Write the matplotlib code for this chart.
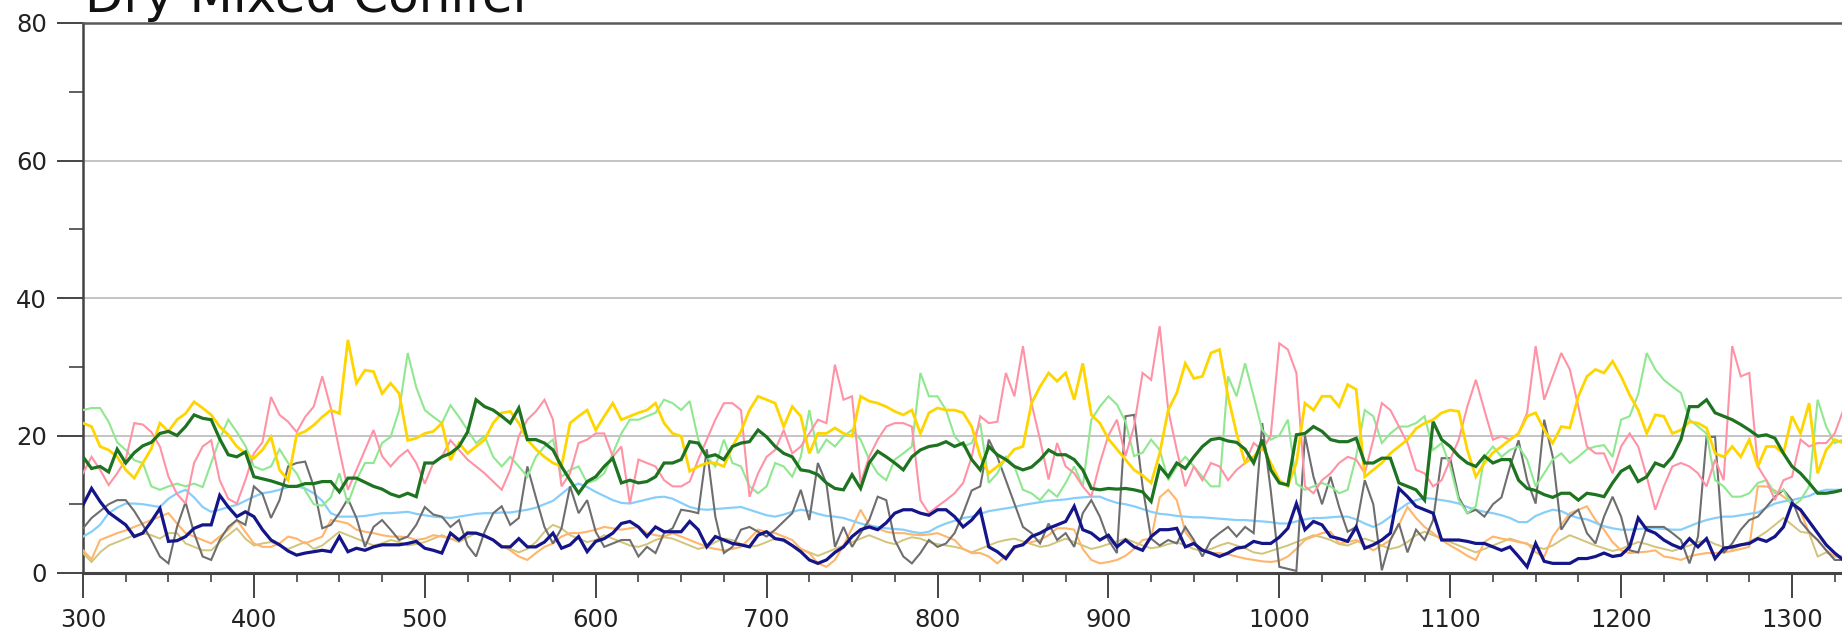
import numpy as np
import matplotlib
matplotlib.use("Agg")
import matplotlib.pyplot as plt
from matplotlib.ticker import MultipleLocator

# ---------------- data (5-year steps, 300 .. 1330) ----------------
years = list(range(300, 1331, 5))

dark_green = [
    16.9, 15.2, 15.5, 14.7, 18.0, 16.0, 17.5, 18.5, 19.0, 20.3, 20.6, 20.0, 21.3, 23.0, 22.5, 22.3, 19.5, 17.2, 16.9, 17.6,
    14.0, 13.7, 13.4, 13.0, 12.6, 12.6, 13.0, 13.0, 13.3, 13.3, 11.8, 13.8, 13.8, 13.2, 12.6, 12.2, 11.5, 11.1, 11.6, 11.1,
    16.0, 16.0, 16.9, 17.4, 18.4, 20.5, 25.2, 24.2, 23.7, 22.8, 21.8, 24.0, 19.4, 19.4, 18.9, 17.9, 15.5, 13.5, 11.6, 13.3,
    14.0, 15.5, 16.7, 13.1, 13.5, 13.1, 13.3, 14.0, 16.0, 16.0, 16.5, 19.1, 18.9, 16.9, 17.2, 16.5, 18.4, 18.9, 19.1, 20.8,
    19.8, 18.4, 17.4, 16.9, 15.0, 14.8, 14.3, 13.1, 12.3, 12.1, 14.3, 12.3, 16.0, 17.7, 16.9, 16.0, 15.0, 16.9, 17.9, 18.4,
    18.6, 19.1, 18.4, 18.9, 16.5, 15.0, 18.4, 17.2, 16.5, 15.5, 15.0, 15.4, 16.5, 17.9, 17.2, 17.2, 16.5, 15.0, 12.3, 12.1,
    12.3, 12.2, 12.3, 12.1, 11.8, 10.4, 15.5, 14.0, 16.0, 15.2, 16.9, 18.4, 19.4, 19.6, 19.2, 19.0, 18.0, 16.0, 19.4, 15.0,
    13.1, 12.8, 20.1, 20.3, 21.3, 20.6, 19.4, 19.1, 19.1, 19.6, 16.0, 16.0, 16.7, 16.7, 13.1, 12.6, 12.1, 10.6, 22.0, 19.4,
    18.4, 17.0, 16.0, 15.5, 17.0, 16.0, 16.5, 16.5, 13.5, 12.3, 12.0, 11.4, 11.0, 11.6, 11.6, 10.6, 11.6, 11.4, 11.1, 13.1,
    14.8, 15.5, 13.3, 14.0, 16.0, 15.5, 16.9, 19.4, 24.2, 24.2, 25.2, 23.3, 22.8, 22.3, 21.6, 20.8, 19.9, 20.1, 19.6, 17.4,
    15.5, 14.5, 13.1, 11.6, 11.6, 11.8, 12.1,
]

navy = [
    9.9, 12.3, 10.4, 8.8, 7.9, 7.0, 5.3, 5.8, 7.5, 9.4, 4.6, 4.7, 5.3, 6.5, 7.0, 7.0, 11.3, 9.6, 8.2, 8.9,
    8.2, 6.3, 4.8, 4.1, 3.2, 2.6, 2.9, 3.1, 3.3, 3.1, 5.3, 3.1, 3.6, 3.3, 3.8, 4.1, 4.1, 4.1, 4.3, 4.6,
    3.6, 3.3, 2.9, 5.8, 4.8, 5.8, 5.8, 5.4, 4.8, 3.8, 3.8, 5.0, 3.8, 3.8, 4.5, 5.8, 3.6, 4.1, 5.3, 3.1,
    4.6, 5.0, 5.8, 7.2, 7.5, 6.7, 5.3, 6.7, 6.0, 6.0, 6.0, 7.5, 6.3, 3.8, 5.3, 4.8, 4.3, 4.1, 3.8, 5.5,
    6.0, 5.0, 4.8, 4.0, 3.1, 1.9, 1.4, 1.9, 3.0, 3.8, 5.3, 6.3, 6.7, 6.3, 7.3, 8.7, 9.2, 9.2, 8.7, 8.4,
    9.2, 9.2, 8.2, 6.7, 7.7, 9.2, 3.8, 3.1, 2.1, 3.8, 4.1, 5.3, 5.8, 6.5, 7.0, 7.5, 9.7, 6.3, 5.8, 4.8,
    5.5, 3.8, 4.8, 3.8, 3.3, 5.3, 6.3, 6.3, 6.5, 3.8, 4.3, 3.3, 2.9, 2.4, 2.9, 3.6, 3.8, 4.6, 4.3, 4.3,
    5.2, 6.5, 10.1, 6.3, 7.5, 7.0, 5.3, 5.0, 4.6, 6.7, 3.6, 4.1, 4.8, 5.8, 12.3, 11.1, 9.7, 9.2, 8.7, 4.8,
    4.8, 4.8, 4.6, 4.3, 4.3, 3.8, 3.3, 3.8, 2.4, 0.9, 4.3, 1.7, 1.4, 1.4, 1.4, 2.1, 2.1, 2.4, 2.9, 2.4,
    2.6, 3.8, 8.0, 6.3, 5.8, 4.8, 4.1, 3.6, 5.0, 3.8, 5.0, 2.1, 3.6, 3.8, 4.1, 4.3, 5.0, 4.6, 5.3, 6.7,
    10.1, 9.2, 7.5, 5.8, 4.1, 2.9, 1.9,
]

gold = [
    21.8, 21.3, 18.4, 17.9, 16.9, 15.0, 13.8, 16.0, 18.1, 21.8, 20.6, 22.3, 23.2, 24.9, 24.0, 23.0, 21.3, 20.1, 18.4, 17.4,
    16.7, 17.9, 19.8, 15.0, 13.5, 20.1, 20.6, 21.5, 22.7, 23.7, 23.2, 33.9, 27.6, 29.5, 29.3, 26.1, 27.6, 26.1, 19.3, 19.6,
    20.3, 20.6, 21.8, 16.4, 18.9, 17.4, 18.4, 19.4, 21.8, 23.3, 23.5, 21.8, 19.4, 18.0, 16.9, 16.0, 15.5, 21.8, 22.8, 23.7,
    20.8, 22.8, 24.7, 22.3, 22.8, 23.3, 23.7, 24.7, 21.8, 20.3, 19.9, 14.8, 15.5, 16.0, 16.0, 15.5, 18.4, 20.6, 23.7, 25.7,
    25.2, 24.7, 21.3, 24.2, 22.8, 17.4, 20.3, 20.3, 21.1, 20.3, 19.9, 25.7, 25.0, 24.7, 24.2, 23.5, 23.0, 23.7, 20.3, 23.3,
    24.0, 23.7, 23.7, 23.3, 21.3, 17.0, 14.5, 15.5, 16.5, 18.0, 18.4, 24.7, 27.1, 29.1, 27.9, 29.1, 25.2, 30.5, 23.0, 21.8,
    19.5, 18.0, 16.5, 15.0, 14.2, 13.1, 17.4, 23.7, 26.2, 30.5, 28.3, 28.6, 32.0, 32.5, 25.7, 20.3, 16.0, 16.9, 18.4, 16.0,
    13.5, 12.6, 16.0, 24.7, 23.7, 25.7, 25.7, 24.2, 27.4, 26.7, 14.0, 15.0, 16.0, 17.4, 18.4, 19.4, 21.0, 21.8, 22.3, 23.3,
    23.7, 23.5, 17.9, 14.0, 16.0, 17.5, 18.4, 19.4, 20.3, 22.8, 23.3, 20.8, 18.9, 21.3, 21.1, 25.7, 28.6, 29.6, 29.1, 30.8,
    28.6, 25.9, 23.7, 20.3, 23.0, 22.8, 20.3, 20.8, 22.0, 21.8, 21.1, 17.4, 16.9, 18.4, 16.9, 19.4, 15.5, 18.4, 18.4, 17.4,
    22.8, 20.3, 24.7, 14.5, 17.9, 19.4, 18.9,
]

pink = [
    14.5, 16.9, 15.0, 12.8, 14.5, 16.5, 21.8, 21.6, 20.5, 18.4, 14.0, 11.5, 10.1, 16.0, 18.4, 19.3, 13.5, 10.8, 10.1, 13.5,
    17.4, 19.0, 25.6, 23.0, 22.0, 20.5, 22.7, 24.2, 28.6, 24.0, 17.9, 12.1, 15.0, 17.9, 20.8, 17.0, 15.5, 16.9, 17.9, 16.0,
    13.0, 16.0, 16.9, 19.3, 17.9, 16.5, 15.5, 14.5, 13.3, 12.1, 15.0, 19.9, 22.3, 23.5, 25.2, 22.3, 12.6, 14.5, 18.9, 19.4,
    20.3, 20.3, 16.9, 18.4, 10.1, 16.5, 16.0, 15.5, 13.5, 12.6, 12.6, 13.3, 16.5, 19.4, 22.3, 24.7, 24.7, 23.7, 11.1, 14.5,
    16.9, 17.9, 20.8, 17.4, 18.4, 20.3, 22.3, 21.8, 30.3, 25.2, 25.7, 13.1, 16.9, 19.4, 21.3, 21.8, 21.8, 21.3, 10.6, 8.7,
    9.7, 10.6, 11.6, 13.1, 16.9, 22.8, 21.8, 22.0, 29.1, 25.7, 33.0, 24.7, 19.4, 13.6, 18.9, 15.5, 14.5, 12.6, 11.1, 16.0,
    20.0, 22.3, 17.0, 21.3, 29.1, 28.1, 35.9, 23.7, 17.9, 12.6, 15.5, 13.5, 16.0, 15.5, 13.5, 15.0, 16.0, 18.9, 17.9, 20.0,
    33.4, 32.5, 29.1, 12.6, 11.6, 13.5, 14.5, 16.0, 16.9, 16.5, 14.5, 19.4, 24.7, 23.7, 21.3, 18.9, 15.0, 14.5, 12.6, 13.5,
    16.5, 19.4, 24.2, 28.1, 23.7, 19.4, 19.9, 19.4, 20.3, 23.3, 33.0, 25.2, 28.6, 32.0, 29.6, 24.2, 18.4, 17.4, 17.4, 14.5,
    18.4, 20.3, 18.4, 14.0, 9.2, 12.6, 15.5, 16.0, 15.5, 14.5, 12.6, 16.5, 13.5, 33.0, 28.6, 29.1, 15.5, 13.5, 10.6, 13.5,
    14.0, 19.4, 18.4, 18.9, 18.9, 20.3, 23.7,
]

light_green = [
    23.7, 24.0, 24.0, 22.0, 19.0, 17.9, 16.4, 16.0, 12.6, 12.1, 12.6, 13.0, 12.6, 13.0, 12.5, 16.0, 19.5, 22.3, 20.5, 18.5,
    15.5, 15.0, 15.5, 18.0, 16.0, 14.5, 12.0, 10.0, 9.8, 11.0, 14.5, 10.1, 13.5, 16.0, 16.0, 18.9, 19.8, 23.7, 32.0, 27.0,
    23.7, 22.7, 21.8, 24.4, 22.7, 20.8, 18.9, 19.9, 16.9, 15.5, 16.9, 15.5, 14.0, 16.9, 18.4, 19.4, 14.0, 15.0, 15.5, 13.1,
    13.5, 14.5, 17.4, 20.3, 22.3, 22.3, 22.8, 23.3, 25.2, 24.7, 23.7, 25.0, 19.4, 16.9, 15.5, 19.4, 16.0, 15.5, 12.6, 11.6,
    12.6, 16.0, 15.5, 14.0, 16.9, 23.7, 17.4, 19.4, 18.4, 19.9, 20.8, 19.4, 16.5, 14.5, 13.5, 16.5, 17.4, 18.4, 29.1, 25.7,
    25.7, 23.7, 19.9, 18.4, 18.9, 21.8, 13.1, 14.5, 16.9, 15.5, 12.1, 11.6, 10.6, 12.1, 11.1, 13.1, 15.5, 12.6, 22.3, 24.2,
    25.7, 24.5, 22.0, 17.0, 17.5, 19.4, 17.9, 13.5, 15.5, 16.9, 15.5, 14.0, 12.6, 12.6, 28.6, 25.7, 30.5, 25.7, 20.8, 19.4,
    20.0, 22.3, 13.0, 12.1, 12.6, 13.1, 12.6, 11.6, 12.1, 17.0, 23.7, 22.8, 18.9, 20.3, 21.3, 21.3, 21.8, 22.8, 17.9, 18.9,
    15.5, 10.6, 8.7, 9.7, 16.9, 18.4, 16.9, 17.9, 18.4, 16.5, 12.6, 14.5, 16.5, 17.4, 16.0, 16.9, 18.0, 18.4, 18.6, 16.9,
    22.3, 22.8, 26.0, 32.0, 29.6, 28.1, 27.1, 26.2, 22.3, 21.3, 20.3, 13.5, 12.6, 11.1, 11.1, 11.6, 13.1, 13.5, 11.6, 12.1,
    9.7, 10.6, 12.6, 25.2, 21.3, 18.9, 19.4,
]

gray = [
    6.5, 8.0, 9.0, 10.0, 10.6, 10.6, 9.0, 7.0, 4.8, 2.4, 1.4, 6.7, 10.3, 5.8, 2.4, 1.9, 4.8, 6.7, 7.7, 7.0,
    12.6, 11.5, 8.0, 10.6, 15.5, 16.0, 16.2, 12.6, 6.5, 7.0, 8.7, 10.8, 8.0, 3.8, 6.7, 7.7, 6.3, 4.8, 5.3, 7.0,
    9.6, 8.5, 8.2, 6.7, 7.7, 4.0, 2.4, 6.0, 8.7, 9.7, 7.0, 8.0, 15.5, 11.0, 6.7, 4.3, 6.5, 12.6, 8.7, 10.6,
    6.0, 3.8, 4.3, 4.8, 4.8, 2.4, 3.8, 2.9, 5.8, 6.5, 9.2, 9.0, 8.7, 18.0, 8.2, 2.9, 3.8, 6.3, 6.7, 6.0,
    5.3, 6.3, 7.5, 8.7, 12.1, 7.7, 16.0, 13.0, 3.8, 6.7, 3.8, 5.8, 7.7, 11.1, 10.6, 4.8, 2.4, 1.4, 2.9, 4.8,
    3.8, 4.3, 5.8, 8.7, 12.0, 12.6, 19.4, 16.9, 13.5, 10.1, 6.7, 5.8, 4.3, 7.2, 4.8, 5.8, 3.8, 8.7, 10.6, 8.2,
    4.8, 2.9, 22.8, 23.0, 12.6, 5.0, 4.0, 4.8, 4.3, 6.7, 4.8, 2.4, 4.8, 5.8, 6.7, 5.3, 6.7, 5.8, 21.8, 12.0,
    0.9, 0.6, 0.3, 20.0, 14.0, 10.0, 14.0, 9.6, 6.0, 6.7, 13.5, 10.0, 0.4, 4.8, 7.2, 3.0, 6.3, 4.8, 7.7, 16.7,
    16.7, 11.0, 8.7, 9.2, 8.2, 10.0, 11.0, 15.5, 19.3, 13.5, 10.1, 22.3, 16.9, 6.3, 8.2, 9.2, 5.8, 4.3, 8.2, 11.1,
    8.2, 3.3, 3.0, 6.7, 6.7, 6.7, 5.8, 4.8, 1.4, 5.3, 19.8, 19.8, 2.9, 4.3, 6.3, 7.7, 8.2, 9.6, 11.1, 12.1,
    10.6, 7.5, 6.0, 4.8, 3.3, 1.9, 1.9,
]

sky_blue = [
    5.3, 6.0, 7.0, 8.7, 9.5, 10.1, 10.1, 10.0, 9.8, 9.6, 10.8, 11.6, 12.1, 11.0, 9.6, 8.9, 9.2, 9.6, 9.9, 10.5,
    11.1, 11.6, 11.8, 12.1, 12.5, 12.6, 12.3, 11.6, 10.5, 8.7, 8.2, 8.2, 8.2, 8.3, 8.5, 8.7, 8.7, 8.8, 8.9, 8.6,
    8.4, 8.2, 8.1, 8.0, 8.2, 8.4, 8.6, 8.7, 8.7, 8.8, 8.8, 9.0, 9.2, 9.5, 10.0, 10.5, 11.5, 12.5, 13.0, 12.5,
    11.8, 11.2, 10.6, 10.2, 10.1, 10.4, 10.7, 11.0, 11.1, 10.8, 10.2, 9.6, 9.3, 9.2, 9.3, 9.4, 9.5, 9.6, 9.2, 8.8,
    8.4, 8.2, 8.5, 8.9, 9.2, 9.0, 8.6, 8.3, 8.2, 8.0, 7.6, 7.2, 6.9, 6.7, 6.5, 6.4, 6.3, 6.0, 5.8, 6.0,
    6.7, 7.2, 7.6, 8.0, 8.2, 8.6, 9.0, 9.2, 9.4, 9.6, 9.9, 10.1, 10.3, 10.5, 10.6, 10.7, 10.9, 11.0, 11.1, 11.1,
    10.6, 10.2, 10.0, 9.7, 9.3, 8.9, 8.6, 8.5, 8.3, 8.2, 8.1, 8.1, 8.0, 7.9, 7.8, 7.7, 7.7, 7.6, 7.5, 7.4,
    7.2, 7.2, 7.5, 7.8, 8.0, 8.0, 8.1, 8.2, 8.2, 7.8, 7.2, 6.7, 7.3, 8.2, 9.2, 10.1, 10.6, 10.9, 10.8, 10.6,
    10.4, 10.1, 9.6, 9.2, 8.9, 8.7, 8.4, 8.0, 7.4, 7.4, 8.3, 8.8, 9.2, 9.0, 8.4, 8.0, 7.8, 7.3, 6.8, 6.5,
    6.3, 6.3, 6.4, 6.5, 6.5, 6.4, 6.3, 6.3, 6.8, 7.3, 7.7, 8.0, 8.2, 8.2, 8.4, 8.6, 8.8, 9.5, 10.1, 10.4,
    10.6, 10.9, 11.2, 11.8, 12.1, 12.1, 12.1,
]

orange = [
    3.3, 2.0, 4.8, 5.3, 5.8, 6.2, 6.7, 7.2, 7.7, 8.2, 8.7, 7.2, 5.8, 5.3, 4.8, 4.3, 5.3, 6.3, 7.7, 6.0,
    4.3, 3.8, 3.8, 4.3, 5.3, 5.0, 4.3, 4.8, 5.3, 7.7, 7.5, 7.2, 6.3, 6.0, 5.8, 5.5, 5.3, 5.3, 5.2, 4.8,
    5.0, 5.5, 5.3, 5.0, 4.8, 6.0, 5.8, 5.3, 4.8, 4.0, 3.3, 2.4, 1.9, 2.9, 3.8, 4.3, 5.3, 5.8, 5.8, 6.0,
    6.3, 6.7, 6.5, 6.3, 6.5, 6.7, 5.8, 5.5, 5.3, 5.8, 5.3, 4.8, 4.3, 3.8, 3.5, 3.3, 3.5, 3.8, 5.0, 6.3,
    6.0, 5.8, 5.3, 4.8, 3.5, 2.9, 1.4, 0.9, 1.9, 4.0, 6.5, 9.2, 7.0, 6.5, 6.0, 5.8, 5.8, 5.6, 5.5, 5.6,
    5.8, 5.3, 4.8, 3.5, 2.9, 2.9, 2.4, 1.4, 2.5, 3.5, 4.3, 4.5, 4.8, 5.5, 6.5, 6.5, 6.3, 3.5, 1.9, 1.4,
    1.6, 1.9, 2.5, 3.5, 4.8, 5.0, 11.0, 12.1, 10.6, 6.0, 4.3, 3.5, 2.9, 2.9, 2.7, 2.4, 2.1, 1.9, 1.7, 1.6,
    1.8, 2.4, 3.5, 4.8, 5.3, 5.8, 6.0, 4.3, 4.5, 4.8, 4.0, 3.3, 4.0, 4.8, 7.0, 9.6, 8.0, 6.7, 5.8, 4.8,
    4.0, 3.3, 2.5, 1.9, 4.5, 5.3, 5.0, 4.8, 4.5, 4.3, 3.0, 2.4, 5.3, 7.0, 8.7, 9.2, 9.7, 7.7, 6.3, 4.5,
    3.3, 2.9, 3.0, 3.1, 3.3, 2.4, 2.2, 1.9, 2.4, 2.7, 2.9, 2.9, 3.0, 3.2, 3.5, 3.8, 12.6, 12.6, 12.0, 11.1,
    10.1, 9.0, 5.8, 4.8, 3.3, 2.4, 2.4,
]

khaki = [
    2.9, 1.6, 3.0, 4.0, 4.5, 5.0, 5.5, 5.8, 5.5, 5.0, 5.8, 5.8, 4.3, 3.8, 3.3, 3.3, 4.5, 5.5, 6.5, 5.0,
    4.0, 4.3, 4.5, 4.0, 3.5, 4.0, 4.5, 3.5, 4.0, 5.0, 6.0, 5.5, 5.0, 4.5, 4.0, 4.3, 4.8, 4.5, 4.0, 4.2,
    4.5, 5.0, 5.5, 5.0, 4.5, 5.2, 5.8, 5.5, 4.8, 4.0, 3.5, 3.0, 3.5, 4.5, 6.0, 7.0, 6.5, 5.5, 5.0, 4.5,
    4.8, 5.5, 5.0, 4.5, 4.0, 3.8, 4.2, 4.8, 5.2, 5.0, 4.5, 4.0, 3.5, 3.8, 4.5, 5.0, 4.8, 4.2, 3.8, 4.0,
    4.5, 5.0, 4.6, 4.0, 3.5, 3.0, 2.5, 3.0, 3.5, 4.0, 4.5, 5.0, 5.5, 5.0, 4.5, 4.2, 4.8, 5.2, 5.0, 4.5,
    4.2, 4.0, 3.8, 3.5, 3.0, 3.5, 4.0, 4.5, 4.8, 5.0, 4.6, 4.2, 3.8, 4.0, 4.5, 5.0, 4.5, 4.0, 3.5, 3.8,
    4.2, 4.6, 5.0, 4.5, 4.0, 3.6, 3.8, 4.2, 4.5, 4.0, 3.5, 3.2, 3.5, 4.0, 4.4, 4.0, 3.6, 3.0, 2.8, 3.2,
    3.6, 4.0, 4.5, 5.0, 5.5, 5.2, 4.8, 4.2, 4.0, 4.5, 5.0, 4.6, 4.0, 3.5, 3.8, 4.5, 5.5, 6.0, 5.5, 5.0,
    4.5, 4.0, 3.5, 3.0, 3.5, 4.0, 4.5, 5.0, 4.6, 4.2, 3.8, 3.5, 4.0, 4.8, 5.5, 5.0, 4.5, 4.0, 3.6, 3.2,
    3.5, 4.0, 4.5, 4.2, 3.8, 3.5, 3.2, 3.6, 4.0, 4.5, 4.8, 4.2, 3.8, 3.5, 4.0, 4.6, 5.2, 6.0, 7.0, 8.0,
    7.0, 6.0, 5.8, 2.4, 3.0, 2.4, 2.4,
]

y_ticks = [0, 20, 40, 60, 80]
x_ticks = list(range(300, 1301, 100))
title_text = "Dry Mixed Conifer"

# ---------------- drawing ----------------
W, H = 1842, 636
fig = plt.figure(figsize=(W / 100, H / 100), dpi=100)
ax_left, ax_bottom, ax_top = 83, 63, 613
ax = fig.add_axes([ax_left / W, ax_bottom / H, 1 - ax_left / W, (ax_top - ax_bottom) / H])

series = [
    (khaki, "#d2c47a", 1.4),
    (orange, "#ffb56b", 1.5),
    (sky_blue, "#87cefa", 1.6),
    (gray, "#6e6e6e", 1.5),
    (light_green, "#8fe88f", 1.5),
    (pink, "#ff93a5", 1.5),
    (gold, "#ffd500", 2.0),
    (dark_green, "#1e7321", 2.3),
    (navy, "#15158a", 2.3),
]
for vals, col, lw in series:
    assert len(vals) == len(years), (col, len(vals))
    ax.plot(years, vals, color=col, lw=lw, solid_joinstyle="miter", zorder=3)

ax.set_xlim(300, 300 + (W - ax_left) / 1.709)
ax.set_ylim(0, 80)
ax.set_yticks(y_ticks)
ax.set_xticks(x_ticks)
ax.yaxis.set_minor_locator(MultipleLocator(10))
ax.xaxis.set_minor_locator(MultipleLocator(25))

ax.set_axisbelow(True)
ax.grid(axis="y", which="major", color="#c4c4c4", lw=1.4)

ax.tick_params(axis="y", which="major", length=19, width=1.4, color="#444444",
               pad=7, labelsize=17.5, labelcolor="#222222")
ax.tick_params(axis="y", which="minor", length=10, width=1.2, color="#444444")
ax.tick_params(axis="x", which="major", length=18, width=1.4, color="#444444",
               pad=7, labelsize=17.5, labelcolor="#222222")
ax.tick_params(axis="x", which="minor", length=6.5, width=1.2, color="#444444")

for side in ("left", "bottom", "top"):
    ax.spines[side].set_color("#444444")
ax.spines["left"].set_linewidth(1.8)
ax.spines["bottom"].set_linewidth(2.2)
ax.spines["top"].set_linewidth(1.8)
ax.spines["top"].set_color("#5a5a5a")
ax.spines["right"].set_visible(False)

fig.text(85 / W, 1 - 12 / H, title_text, fontsize=36, ha="left", va="baseline", color="#111111")

fig.savefig("out.png", dpi=100, facecolor="white")
